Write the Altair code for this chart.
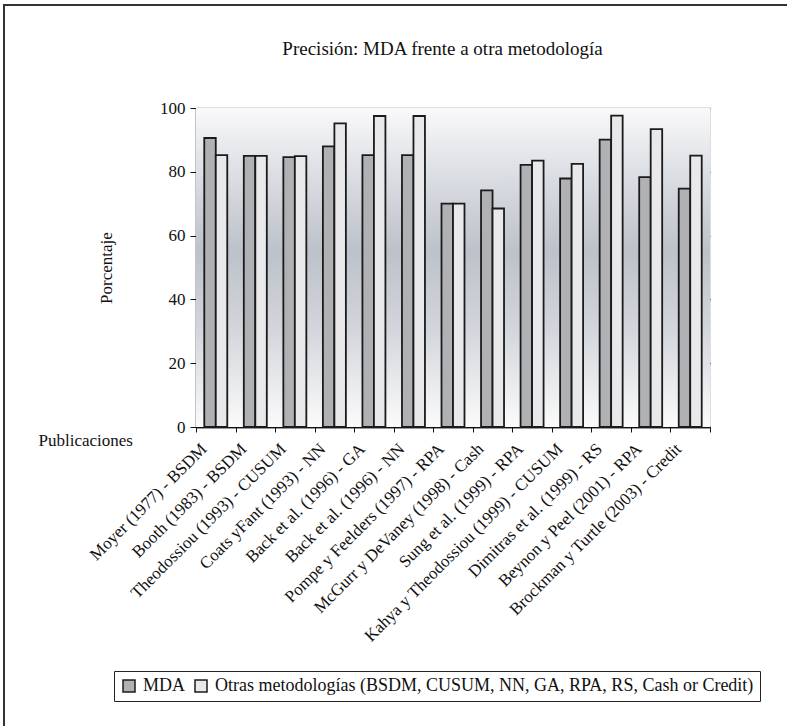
import altair as alt
import pandas as pd

# Publications compared (category axis)
publicaciones = [
    "Moyer (1977) - BSDM",
    "Booth (1983) - BSDM",
    "Theodossiou (1993) - CUSUM",
    "Coats yFant (1993) - NN",
    "Back et al. (1996) - GA",
    "Back et al. (1996) - NN",
    "Pompe y Feelders (1997) - RPA",
    "McGurr y DeVaney (1998) - Cash",
    "Sung et al. (1999) - RPA",
    "Kahya y Theodossiou (1999) - CUSUM",
    "Dimitras et al. (1999) - RS",
    "Beynon y Peel (2001) - RPA",
    "Brockman y Turtle (2003) - Credit",
]

# Accuracy (%) of MDA and of the alternative methodology in each study
mda = [90.6, 85.0, 84.6, 88.0, 85.2, 85.2, 70.0, 74.2, 82.2, 77.9, 90.1, 78.3, 74.7]
otras = [85.2, 85.0, 84.9, 95.2, 97.5, 97.5, 70.0, 68.5, 83.5, 82.5, 97.6, 93.4, 85.1]

series = ["MDA", "Otras metodologías (BSDM, CUSUM, NN, GA, RPA, RS, Cash or Credit)"]
series_colors = ["#b0b1b5", "#e9e9eb"]
y_ticks = [0, 20, 40, 60, 80, 100]
titulo = "Precisión: MDA frente a otra metodología"

rows = []
for p, a, b in zip(publicaciones, mda, otras):
    rows.append({"pub": p, "serie": series[0], "valor": a})
    rows.append({"pub": p, "serie": series[1], "valor": b})
df = pd.DataFrame(rows)

FONT = "Liberation Serif, Times New Roman, serif"
W, H = 514, 319

# Plot-area background: vertical gradient, darker around the middle
background = alt.Chart(alt.Data(values=[{}])).mark_rect(
    fill=alt.Gradient(
        gradient="linear", x1=0, y1=0, x2=0, y2=1,
        stops=[
            alt.GradientStop(offset=0, color="#f9f9fa"),
            alt.GradientStop(offset=0.2, color="#dcdfe4"),
            alt.GradientStop(offset=0.45, color="#bdc1c9"),
            alt.GradientStop(offset=0.7, color="#d3d6dc"),
            alt.GradientStop(offset=1, color="#fbfbfb"),
        ],
    )
).encode(x=alt.value(0), x2=alt.value(W), y=alt.value(0), y2=alt.value(H))

bars = alt.Chart(df).mark_bar(stroke="#1b1b1b", strokeWidth=1.8, opacity=1).encode(
    x=alt.X(
        "pub:N",
        sort=publicaciones,
        scale=alt.Scale(paddingInner=0, paddingOuter=0),
        axis=alt.Axis(
            title="Publicaciones",
            titleX=-158, titleY=13, titleAlign="left", titleBaseline="middle",
            titleAngle=0, titleFont=FONT, titleFontSize=17, titleFontWeight="normal",
            titleColor="#111",
            labelAngle=-45, labelAlign="right", labelBaseline="middle",
            labelPadding=14, labelOffset=-12,
            labelFont=FONT, labelFontSize=17, labelColor="#111",
            labelLimit=500,
            tickBand="extent", tickSize=5, tickColor="#111", domainColor="#111",
            domainWidth=1.5,
        ),
    ),
    xOffset=alt.XOffset(
        "serie:N", sort=series,
        scale=alt.Scale(paddingInner=0, paddingOuter=0.72),
    ),
    y=alt.Y(
        "valor:Q",
        scale=alt.Scale(domain=[0, 100], nice=False),
        axis=alt.Axis(
            values=y_ticks,
            title="Porcentaje", titleFont=FONT, titleFontSize=17,
            titleFontWeight="normal", titleColor="#111", titlePadding=44,
            labelFont=FONT, labelFontSize=17, labelColor="#111", labelPadding=5,
            tickSize=6, tickColor="#111", domainColor="#111", domainWidth=1.5,
            grid=True,
            gridColor=alt.condition("datum.value >= 60", alt.value("#7a7a7a"), alt.value("#222")),
            gridWidth=1.3,
        ),
    ),
    color=alt.Color(
        "serie:N",
        sort=series,
        scale=alt.Scale(domain=series, range=series_colors),
        legend=alt.Legend(
            orient="none", legendX=-82, legendY=563, direction="horizontal",
            title=None, labelFont=FONT, labelFontSize=18, labelColor="#111",
            labelLimit=700, symbolType="square", symbolSize=144,
            symbolStrokeColor="#1b1b1b", symbolStrokeWidth=1.5, symbolOpacity=1,
            strokeColor="#222", fillColor="white", padding=6,
            columnPadding=6, labelOffset=5,
        ),
    ),
)

# Chart heading, centred a little left of the plot centre
heading = alt.Chart(alt.Data(values=[{}])).mark_text(
    text=titulo, font=FONT, fontSize=19, color="#111",
    align="center", baseline="alphabetic",
).encode(x=alt.value(246.5), y=alt.value(-53))

# Outer frame around the whole figure
frame = alt.Chart(alt.Data(values=[{}])).mark_rect(
    fillOpacity=0, stroke="#333", strokeWidth=2
).encode(x=alt.value(-192), x2=alt.value(596), y=alt.value(-103), y2=alt.value(623))

chart = alt.layer(background, bars, heading, frame).properties(
    width=W,
    height=H,
    autosize="none",
    padding={"left": 196, "top": 108, "right": 77, "bottom": 299},
).configure_view(stroke="#9a9a9a", strokeWidth=2).configure(background="white")

chart.save("out.html", embed_options={"renderer": "svg", "actions": False})
